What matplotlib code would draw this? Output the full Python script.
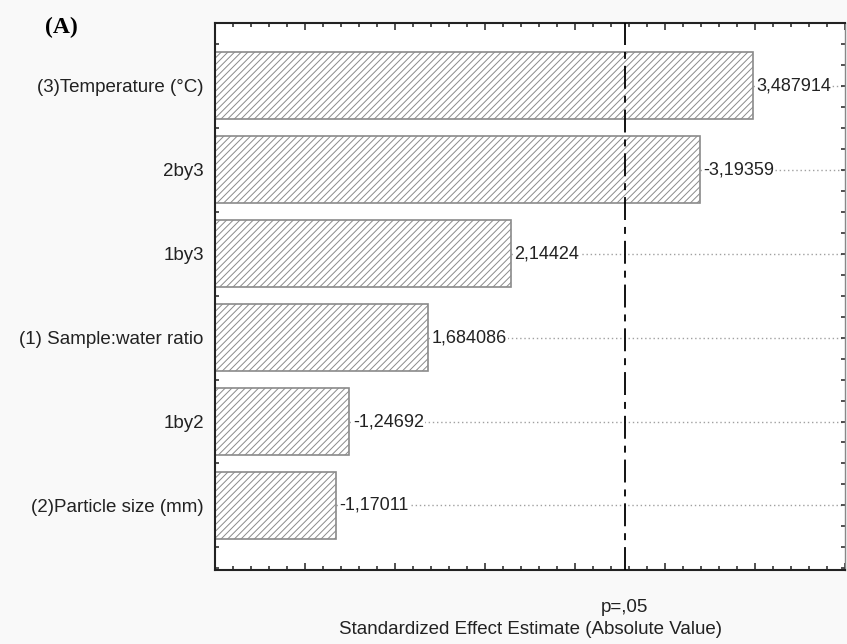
import matplotlib
matplotlib.use("Agg")
import matplotlib.pyplot as plt
from matplotlib.ticker import MultipleLocator, NullFormatter
import numpy as np

plt.rcParams['lines.scale_dashes'] = False
plt.rcParams['hatch.color'] = '#8a8a8a'
plt.rcParams['hatch.linewidth'] = 0.7

categories = ["(3)Temperature (°C)", "2by3", "1by3", "(1) Sample:water ratio",
              "1by2", "(2)Particle size (mm)"]
effects = [3.487914, -3.19359, 2.14424, 1.684086, -1.24692, -1.17011]
value_labels = ["3,487914", "-3,19359", "2,14424", "1,684086", "-1,24692", "-1,17011"]
p_value_line = 2.776
p_label = "p=,05"
xlabel = "Standardized Effect Estimate (Absolute Value)"
panel_label = "(A)"

xmin, xmax = 0.5, 4.0
FS = 13.5
FSV = 13

fig = plt.figure(figsize=(8.47, 6.44), dpi=100)
fig.patch.set_facecolor('#f9f9f9')
ax = fig.add_axes([0.2538, 0.1149, 0.9976 - 0.2538, 0.9643 - 0.1149])
ax.set_facecolor('white')

ypos = np.arange(len(categories))
absvals = np.abs(effects)
ax.barh(ypos, absvals - xmin, left=xmin, height=0.8, color='white',
        edgecolor='#8a8a8a', linewidth=1.2, hatch='/////', zorder=2)

font = 'Liberation Sans'
for y, v, lab in zip(ypos, absvals, value_labels):
    ax.hlines(y, v, xmax, colors='#a0a0a0', linestyles=(0, (1, 2)),
              linewidth=1.0, zorder=1)
    ax.text(v + 0.02, y, lab, va='center', ha='left', fontsize=FSV,
            family=font, color='#222222', zorder=3,
            bbox=dict(facecolor='white', edgecolor='none', pad=0.5))

ax.axvline(p_value_line, color='black', linewidth=1.3,
           linestyle=(0, (16.5, 5, 5, 5)), zorder=4)

ax.set_xlim(xmin, xmax)
ax.set_ylim(len(categories) - 1 + 0.77, -0.75)

ax.set_yticks(ypos)
ax.set_yticklabels(categories, family=font, fontsize=FS, color='#222222')
ax.yaxis.set_minor_locator(MultipleLocator(0.25))
ax.xaxis.set_major_locator(MultipleLocator(0.5))
ax.xaxis.set_minor_locator(MultipleLocator(0.1))
ax.xaxis.set_major_formatter(NullFormatter())
ax.tick_params(axis='both', which='both', direction='in', top=True, right=True,
               color='#333333')
ax.tick_params(axis='x', which='major', length=5, width=1.2)
ax.tick_params(axis='x', which='minor', length=3, width=1.2)
ax.tick_params(axis='y', which='major', length=3, width=1.2, pad=8)
ax.tick_params(axis='y', which='minor', length=3, width=1.2)

for s in ['left', 'bottom', 'top']:
    ax.spines[s].set_linewidth(1.5)
    ax.spines[s].set_color('#222222')
ax.spines['right'].set_linewidth(1.0)
ax.spines['right'].set_color('#888888')

# p label directly under the critical line
pl_x = ax.transData.transform((p_value_line, 0))[0] / fig.bbox.width
fig.text(pl_x, 1 - 608 / 644, p_label, ha='center', va='center',
         fontsize=FS, family=font, color='#222222')
fig.text((338 + 723) / 2 / 847, 1 - 629 / 644, xlabel, ha='center', va='center',
         fontsize=FS, family=font, color='#222222')

fig.text(61 / 847, 1 - 27 / 644, panel_label, family='Liberation Serif',
         fontweight='bold', fontsize=17, ha='center', va='center')

fig.savefig('out.png', dpi=100, facecolor=fig.get_facecolor())
